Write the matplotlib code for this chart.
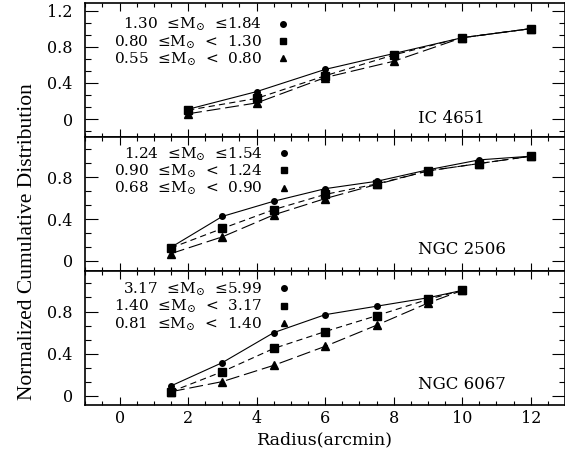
import matplotlib
matplotlib.use("Agg")
import matplotlib.pyplot as plt
from matplotlib.lines import Line2D
from matplotlib.ticker import MultipleLocator, AutoMinorLocator, FuncFormatter

plt.rcParams['font.family'] = ['DejaVu Serif']
plt.rcParams['mathtext.fontset'] = 'dejavuserif'
plt.rcParams['lines.scale_dashes'] = False

# ---- data ----
clusters = ["IC 4651", "NGC 2506", "NGC 6067"]

ic_x = [2, 4, 6, 8, 10, 12]
ic_high = [0.11, 0.305, 0.55, 0.725, 0.90, 1.0]
ic_mid = [0.10, 0.23, 0.48, 0.71, 0.90, 1.0]
ic_low = [0.06, 0.18, 0.46, 0.64, 0.90, 1.0]
ic_labels = ["1.30  \u2264M$_{\\odot}$  \u22641.84",
             "0.80  \u2264M$_{\\odot}$  <  1.30",
             "0.55  \u2264M$_{\\odot}$  <  0.80"]

n2506_x = [1.5, 3, 4.5, 6, 7.5, 9, 10.5, 12]
n2506_high = [0.13, 0.425, 0.57, 0.69, 0.76, 0.87, 0.965, 1.0]
n2506_mid = [0.124, 0.31, 0.49, 0.635, 0.735, 0.86, 0.93, 1.0]
n2506_low = [0.07, 0.23, 0.44, 0.595, 0.73, 0.86, 0.93, 1.0]
n2506_labels = ["1.24  \u2264M$_{\\odot}$  \u22641.54",
                "0.90  \u2264M$_{\\odot}$  <  1.24",
                "0.68  \u2264M$_{\\odot}$  <  0.90"]

n6067_x = [1.5, 3, 4.5, 6, 7.5, 9, 10]
n6067_high = [0.095, 0.316, 0.60, 0.77, 0.85, 0.93, 1.0]
n6067_mid = [0.04, 0.23, 0.45, 0.61, 0.76, 0.915, 1.0]
n6067_low = [0.04, 0.136, 0.29, 0.47, 0.67, 0.88, 1.0]
n6067_labels = ["3.17  \u2264M$_{\\odot}$  \u22645.99",
                "1.40  \u2264M$_{\\odot}$  <  3.17",
                "0.81  \u2264M$_{\\odot}$  <  1.40"]

xticks = [0, 2, 4, 6, 8, 10, 12]

panels = [
    (ic_x, [ic_high, ic_mid, ic_low], ic_labels, (-0.2, 1.28)),
    (n2506_x, [n2506_high, n2506_mid, n2506_low], n2506_labels, (-0.1, 1.18)),
    (n6067_x, [n6067_high, n6067_mid, n6067_low], n6067_labels, (-0.09, 1.18)),
]
name_y = [0.14, 0.16, 0.153]
leg_y = [0.94, 0.975, 0.965]

styles = [
    dict(marker='o', ms=4, ls='-'),
    dict(marker='s', ms=6, ls=(0, (4.5, 3))),
    dict(marker='^', ms=5.5, ls=(0, (10, 3.5))),
]
leg_ms = [4, 5, 4]

fig = plt.figure(figsize=(5.65, 4.5), dpi=100)
gs = fig.add_gridspec(3, 1, left=0.151, right=1.0, top=0.9927, bottom=0.099, hspace=0)

yfmt = FuncFormatter(lambda v, p: '0' if abs(v) < 1e-9 else f'{v:.1f}')

for i, (x, series, labels, ylim) in enumerate(panels):
    ax = fig.add_subplot(gs[i])
    for ys, st in zip(series, styles):
        ax.plot(x, ys, color='black', lw=0.8, marker=st['marker'], ms=st['ms'],
                linestyle=st['ls'], mfc='black', mec='black')
    ax.set_xlim(-1, 13)
    ax.set_ylim(*ylim)
    ax.xaxis.set_major_locator(MultipleLocator(2))
    ax.xaxis.set_minor_locator(AutoMinorLocator(4))
    ax.yaxis.set_major_locator(MultipleLocator(0.4))
    ax.yaxis.set_minor_locator(AutoMinorLocator(3))
    ax.yaxis.set_major_formatter(yfmt)
    ax.tick_params(which='both', direction='in', top=True, right=True, colors='black',
                   labelsize=11.5)
    ax.tick_params(axis='x', which='major', length=5.8, width=0.8)
    ax.tick_params(axis='x', which='minor', length=2.9, width=0.8)
    ax.tick_params(axis='y', which='major', length=9.4, width=0.8, pad=9)
    ax.tick_params(axis='y', which='minor', length=4.3, width=0.8)
    for s in ax.spines.values():
        s.set_linewidth(1.2)
    if i < 2:
        ax.tick_params(axis='x', labelbottom=False)
    else:
        ax.set_xticks(xticks)
        ax.set_xlabel("Radius(arcmin)", fontsize=12.5, labelpad=3)
    handles = [Line2D([], [], color='black', marker=st['marker'], ms=m, ls='none')
               for st, m in zip(styles, leg_ms)]
    ax.legend(handles, labels, loc='upper left', bbox_to_anchor=(0.05, leg_y[i]),
              frameon=False, markerfirst=False, fontsize=11, labelspacing=0.0,
              handlelength=0.6, handletextpad=1.1, borderpad=0.3, borderaxespad=0.0)
    ax.text(0.693, name_y[i], clusters[i], transform=ax.transAxes, fontsize=12,
            ha='left', va='center')

fig.text(0.048, 0.463, "Normalized Cumulative Distribution", rotation=90,
         ha='center', va='center', fontsize=15.5, family='Liberation Serif')

fig.savefig("out.png", dpi=100)
